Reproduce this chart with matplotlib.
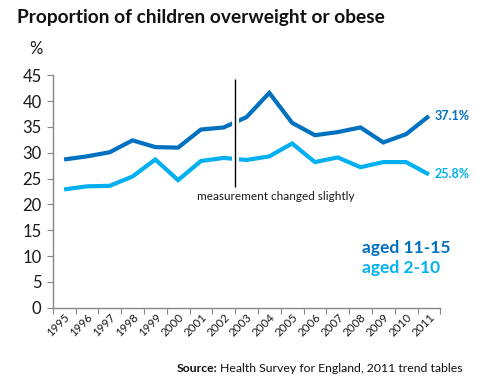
import matplotlib
matplotlib.use("Agg")
import matplotlib.pyplot as plt

years = ["1995", "1996", "1997", "1998", "1999", "2000", "2001", "2002", "2003",
         "2004", "2005", "2006", "2007", "2008", "2009", "2010", "2011"]
aged_11_15 = [28.7, 29.3, 30.1, 32.4, 31.1, 31.0, 34.5, 34.9, 36.9, 41.6, 35.8,
              33.4, 34.0, 34.9, 32.0, 33.6, 37.1]
aged_2_10 = [22.9, 23.5, 23.6, 25.4, 28.7, 24.7, 28.4, 29.0, 28.6, 29.3, 31.8,
             28.2, 29.1, 27.2, 28.2, 28.2, 25.8]
yticks = [0, 5, 10, 15, 20, 25, 30, 35, 40, 45]

DARK = "#0070C0"
LIGHT = "#00B0F0"
GREY = "#868686"
FONT = "Lato"

W, H = 481, 387
fig = plt.figure(figsize=(W / 100, H / 100), dpi=100)
left, right, top, bottom = 52.7, 440.3, 75.3, 307.7
ax = fig.add_axes([left / W, 1 - bottom / H, (right - left) / W, (bottom - top) / H])

x = list(range(len(years)))
ax.plot(x, aged_11_15, color=DARK, lw=3.0, solid_joinstyle="miter", solid_capstyle="butt", zorder=3)
ax.plot(x, aged_2_10, color=LIGHT, lw=3.0, solid_joinstyle="miter", solid_capstyle="butt", zorder=3)

# measurement change marker
ax.plot([7.5, 7.5], [23.4, 44.3], color="white", lw=5, zorder=4, solid_capstyle="butt", clip_on=False)
ax.plot([7.5, 7.5], [23.4, 44.3], color="black", lw=1, zorder=5, solid_capstyle="butt", clip_on=False)
ax.text(5.82, 21.5, "measurement changed slightly", fontsize=8.5, family=FONT,
        color="#1a1a1a", va="center", ha="left")

ax.set_xlim(-0.5, len(years) - 0.5)
ax.set_ylim(0, 45)
ax.set_yticks(yticks)
ax.set_yticklabels([str(v) for v in yticks], fontsize=12, family=FONT, color="#1a1a1a")
ax.set_xticks([i - 0.5 for i in range(len(years) + 1)])
ax.set_xticklabels([])
ax.set_xticks(x, minor=True)
ax.set_xticklabels(years, minor=True, rotation=45, ha="right", va="top",
                   rotation_mode="anchor", fontsize=8.3, family=FONT, color="#1a1a1a")
ax.tick_params(axis="x", which="minor", length=0, pad=3)
ax.tick_params(axis="x", which="major", length=4, color=GREY, direction="out")
ax.tick_params(axis="y", length=4, color=GREY, direction="out", pad=4)
for s in ["top", "right"]:
    ax.spines[s].set_visible(False)
for s in ["left", "bottom"]:
    ax.spines[s].set_color(GREY)
    ax.spines[s].set_linewidth(1)

# end labels
ax.text(16.25, aged_11_15[-1], "37.1%", color=DARK, fontsize=9, fontweight="bold",
        family=FONT, va="center", ha="left", clip_on=False)
ax.text(16.25, aged_2_10[-1], "25.8%", color=LIGHT, fontsize=9, fontweight="bold",
        family=FONT, va="center", ha="left", clip_on=False)

# legend text
fig.text(362 / W, 1 - 248 / H, "aged 11-15", color=DARK, fontsize=12.5, fontweight="bold",
         family=FONT, va="center", ha="left")
fig.text(362 / W, 1 - 268 / H, "aged 2-10", color=LIGHT, fontsize=12.5, fontweight="bold",
         family=FONT, va="center", ha="left")

fig.text(17 / W, 1 - 18 / H, "Proportion of children overweight or obese", fontsize=13.8,
         fontweight="bold", family=FONT, color="#111111", va="center", ha="left")
fig.text(29 / W, 1 - 49 / H, "%", fontsize=12, family=FONT, color="#1a1a1a", va="center", ha="left")

src_y = 1 - 368 / H
t2 = fig.text(463 / W, src_y, "Health Survey for England, 2011 trend tables", fontsize=8.8,
              family=FONT, color="#111111", va="center", ha="right")
fig.canvas.draw()
bb = t2.get_window_extent()
fig.text((bb.x0 - 3) / W, src_y, "Source:", fontsize=8.8, fontweight="bold", family=FONT,
         color="#111111", va="center", ha="right")

fig.savefig("out.png", dpi=100)
